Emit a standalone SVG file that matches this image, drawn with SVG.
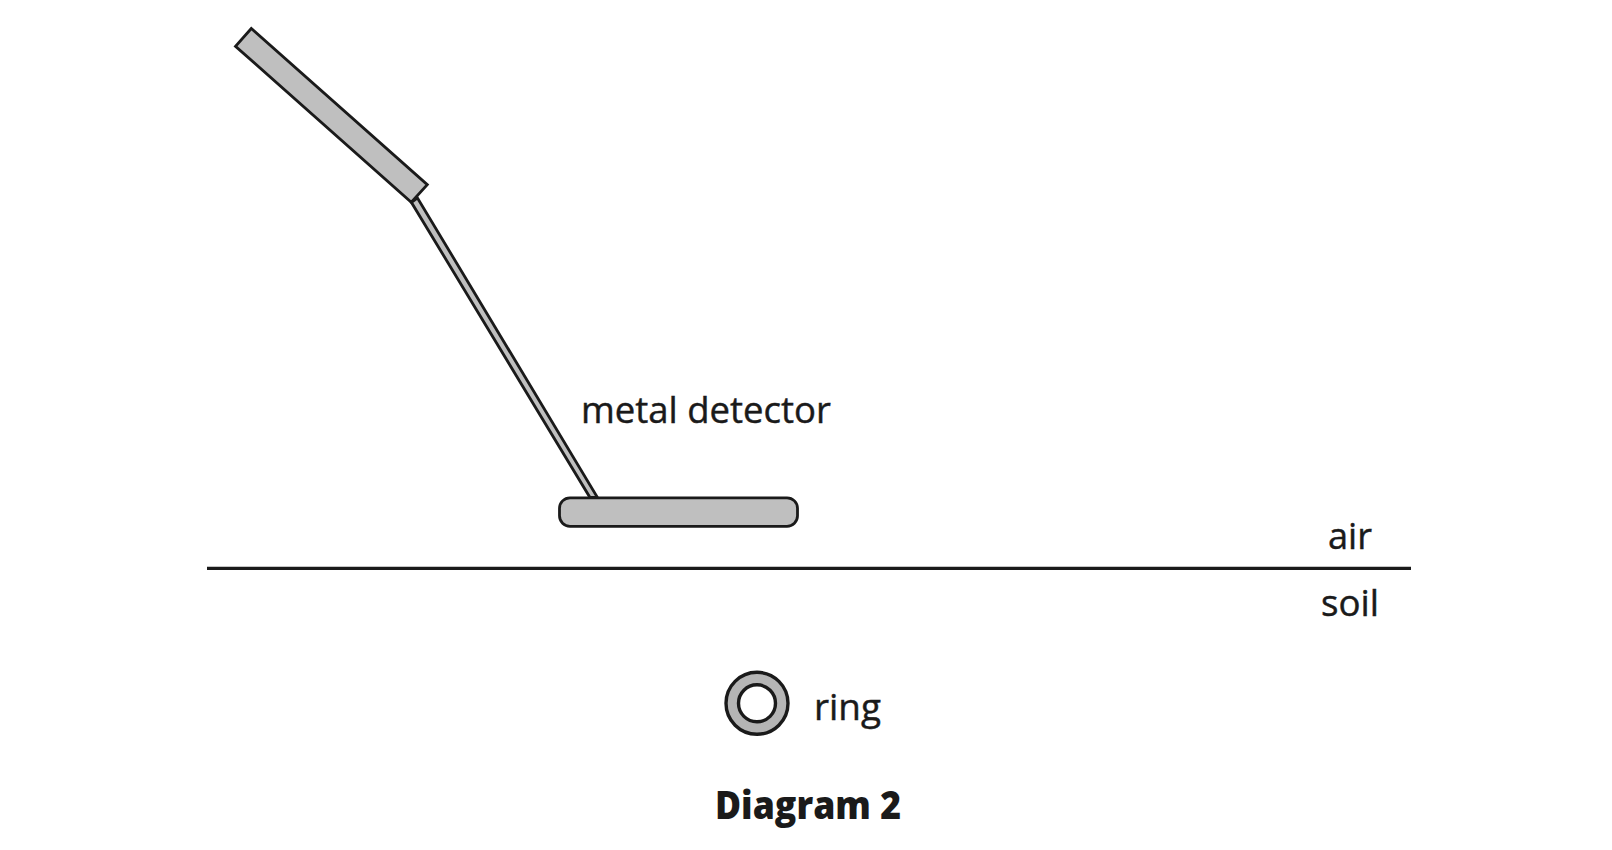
<svg xmlns="http://www.w3.org/2000/svg" width="1612" height="850" viewBox="0 0 1612 850">
<style>
.s{fill:#bfbfbf;stroke:#1a1a1a;stroke-width:2.8;stroke-linejoin:miter}
.t{font-family:"Open Sans","Noto Sans",sans-serif;font-size:37px;fill:#1a1a1a;stroke:#1a1a1a;stroke-width:0.45}
.b{font-family:"Open Sans","Noto Sans",sans-serif;font-size:38px;font-weight:800;fill:#1a1a1a}
</style>
<rect width="1612" height="850" fill="#fff"/>
<g id="metal-detector">
<polygon class="s" points="411.5,202.5 417.5,198 597.5,497.5 590,497.5"/>
<polygon class="s" points="251.3,28.5 235.5,46.3 411.3,202.3 427.3,184.7"/>
<rect class="s" x="559.5" y="497.8" width="238" height="28.5" rx="10.5" ry="10.5"/>
</g>
<g id="ground"><line x1="207" y1="568.4" x2="1411" y2="568.4" stroke="#1a1a1a" stroke-width="3.2"/></g>
<g id="ring">
<circle cx="757" cy="703.3" r="31" fill="#b5b5b5" stroke="#1a1a1a" stroke-width="3.4"/>
<circle cx="757" cy="703.3" r="18.5" fill="#fff" stroke="#1a1a1a" stroke-width="3.4"/>
</g>
<g id="labels">
<text class="t" x="581" y="423" textLength="250" lengthAdjust="spacingAndGlyphs">metal detector</text>
<text class="t" x="1328" y="549" textLength="44" lengthAdjust="spacingAndGlyphs">air</text>
<text class="t" x="1321" y="616" textLength="58" lengthAdjust="spacingAndGlyphs">soil</text>
<text class="t" x="814" y="720" textLength="67" lengthAdjust="spacingAndGlyphs">ring</text>
<text class="b" x="715" y="819" textLength="186" lengthAdjust="spacingAndGlyphs">Diagram 2</text>
</g>
</svg>
